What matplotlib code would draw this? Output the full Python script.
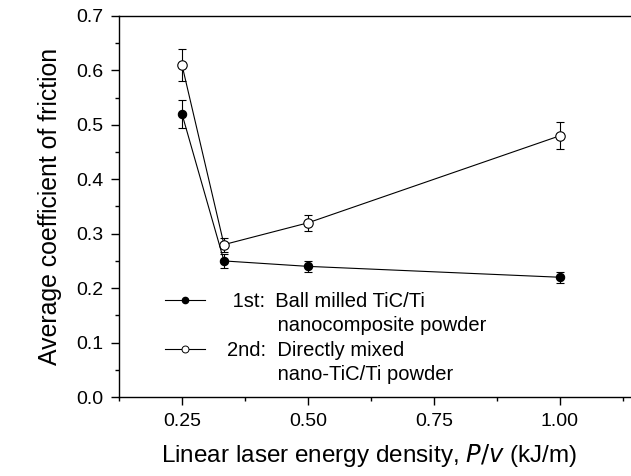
import matplotlib
matplotlib.use("Agg")
import matplotlib.pyplot as plt
from matplotlib.lines import Line2D
from matplotlib.ticker import MultipleLocator

plt.rcParams['font.family'] = ['Liberation Sans', 'DejaVu Sans']

x = [0.25, 1/3, 0.5, 1.0]
ball_milled = [0.52, 0.25, 0.24, 0.22]
ball_milled_err = [0.025, 0.013, 0.01, 0.01]
direct_mixed = [0.61, 0.28, 0.32, 0.48]
direct_mixed_err = [0.03, 0.013, 0.015, 0.025]
labels = [" 1st:\u2002Ball milled TiC/Ti", "         nanocomposite powder",
          "2nd:  Directly mixed", "         nano-TiC/Ti powder"]

fig = plt.figure(figsize=(6.31, 4.76), dpi=100)
ax = fig.add_axes([119/631, 79/476, 1 - 119/631, 381/476])

ax.errorbar(x, direct_mixed, yerr=direct_mixed_err, color='black', lw=0.8,
            marker='o', ms=6.8, mfc='white', mec='black', mew=0.8,
            capsize=3, elinewidth=0.8, capthick=0.8, zorder=3)
ax.errorbar(x, ball_milled, yerr=ball_milled_err, color='black', lw=0.8,
            marker='o', ms=6.0, mfc='black', mec='black', mew=0.8,
            capsize=3, elinewidth=0.8, capthick=0.8, zorder=3)

ax.set_xlim(0.125, 1.141)
ax.set_ylim(0.0, 0.7)
ax.xaxis.set_minor_locator(MultipleLocator(0.125))
ax.yaxis.set_minor_locator(MultipleLocator(0.05))
ax.set_xticks([0.25, 0.5, 0.75, 1.0])
ax.set_xticklabels(['0.25', '0.50', '0.75', '1.00'])
yt = [0.0, 0.1, 0.2, 0.3, 0.4, 0.5, 0.6, 0.7]
ax.set_yticks(yt)
ax.set_yticklabels([f'{v:.1f}' for v in yt])
ax.tick_params(which='major', direction='out', length=6, width=1, labelsize=14,
               colors='black', pad=5.5)
ax.tick_params(which='minor', direction='out', length=3.2, width=1)
ax.spines['right'].set_visible(False)
for s in ['left', 'bottom', 'top']:
    ax.spines[s].set_linewidth(1)

ax.set_xlabel('Linear laser energy density, $\\it{P/v}$ (kJ/m)', fontsize=17.5, labelpad=8.5)
ax.xaxis.label.set_x(0.488)
ax.set_ylabel('Average coefficient of friction', fontsize=17.9, labelpad=10)

h1 = Line2D([], [], color='black', lw=0.8, marker='o', ms=4.5, mfc='black', mec='black')
h2 = Line2D([], [], color='black', lw=0.8, marker='o', ms=5, mfc='white', mec='black', mew=0.7)
blank = Line2D([], [], color='none')
ax.legend([h1, blank, h2, blank], labels, frameon=False, fontsize=14.5,
          loc='upper left', bbox_to_anchor=(0.0898, 0.276), handlelength=2.0,
          handletextpad=1.07, labelspacing=0.27, borderaxespad=0, borderpad=0)

fig.savefig('out.png', dpi=100)
